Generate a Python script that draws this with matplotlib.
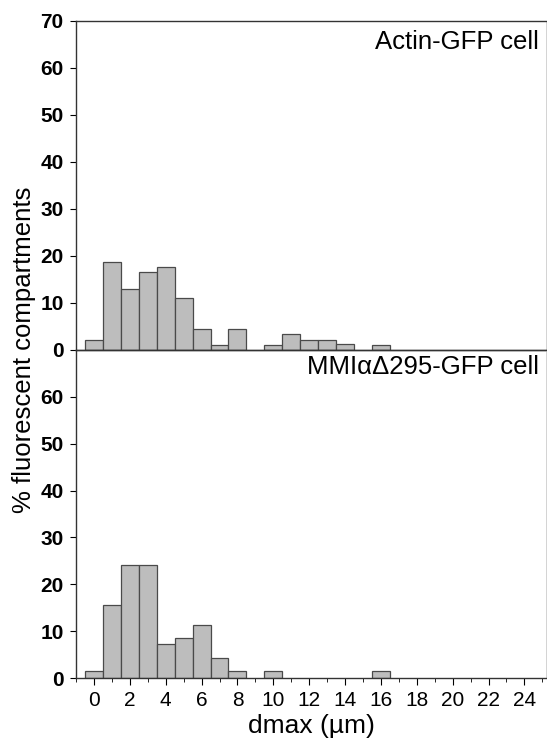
import numpy as np
import matplotlib.pyplot as plt
from matplotlib.ticker import MultipleLocator

plt.rcParams['font.family'] = ['Liberation Sans', 'DejaVu Sans']

# bin centres (dmax, um) and % of compartments per bin
dmax = np.arange(0, 17)
actin = [2.1, 18.7, 13.0, 16.5, 17.6, 11.0, 4.4, 1.1, 4.4, 0, 1.1, 3.4, 2.2, 2.2, 1.2, 0, 1.1]
mmi = [1.4, 15.6, 24.1, 24.1, 7.3, 8.6, 11.4, 4.3, 1.5, 0, 1.5, 0, 0, 0, 0, 0, 1.5]
labels = ['Actin-GFP cell', 'MMI\u03b1\u0394295-GFP cell']
xticks = np.arange(0, 25, 2)

fig = plt.figure(figsize=(5.47, 7.44), dpi=100)
ax1 = fig.add_axes([0.139, 0.5296, 0.859, 0.4422])
ax2 = fig.add_axes([0.139, 0.0887, 0.859, 0.4409])


def draw(ax, vals, label, yt, label_y):
    x = np.array(dmax)
    v = np.array(vals)
    keep = v > 0
    ax.bar(x[keep], v[keep], width=1.0, color='#bdbdbd', edgecolor='#4a4a4a', linewidth=0.9)
    ax.set_xlim(-1, 25.2)
    ax.set_ylim(0, 70)
    ax.set_yticks(yt)
    ax.tick_params(axis='y', direction='out', length=4, width=0.8, labelsize=15, pad=5)
    for t in ax.get_yticklabels():
        t.set_fontweight('bold')
    ax.text(0.985, label_y, label, transform=ax.transAxes, ha='right', va='top', fontsize=18.5)
    for s in ['left', 'bottom', 'top']:
        ax.spines[s].set_color('#333333')
        ax.spines[s].set_linewidth(1.0)
    ax.spines['right'].set_color('#cccccc')
    ax.spines['right'].set_linewidth(0.6)


draw(ax1, actin, labels[0], np.arange(0, 71, 10), 0.972)
draw(ax2, mmi, labels[1], np.arange(0, 61, 10), 0.985)

ax1.tick_params(axis='x', bottom=False, labelbottom=False)
ax2.patch.set_visible(False)
ax2.set_xticks(xticks)
ax2.xaxis.set_minor_locator(MultipleLocator(1))
ax2.tick_params(axis='x', which='major', direction='out', length=5, width=0.8, labelsize=15, pad=4)
ax2.tick_params(axis='x', which='minor', direction='out', length=3, width=0.6)
ax2.set_xlabel('dmax (\u00b5m)', fontsize=19, labelpad=3)

fig.text(0.044, 0.5296, '% fluorescent compartments', rotation=90, ha='center', va='center', fontsize=18.5)

fig.savefig('out.png', dpi=100)
